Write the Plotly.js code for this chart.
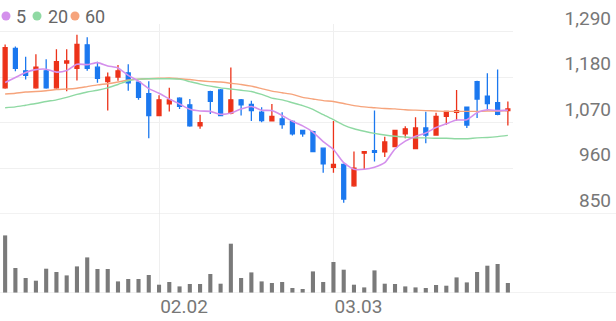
<!DOCTYPE html>
<html><head><meta charset="utf-8">
<script src="https://cdn.plot.ly/plotly-3.0.1.min.js"></script>
<style>html,body{margin:0;padding:0;background:#fff}#chart{width:616px;height:321px}</style>
</head><body><div id="chart"></div>
<script>
const dates=["01.12","01.13","01.14","01.15","01.16","01.19","01.20","01.21","01.22","01.23","01.26","01.27","01.28","01.29","01.30","02.02","02.03","02.04","02.05","02.06","02.09","02.10","02.11","02.12","02.13","02.19","02.20","02.23","02.24","02.25","02.26","02.27","03.03","03.04","03.05","03.06","03.09","03.10","03.11","03.12","03.13","03.16","03.17","03.18","03.19","03.20","03.23","03.24","03.25","03.26"];
const openP=[1155,1250,1196,1155,1196,1155,1215,1202,1259,1205,1170,1181,1191,1169,1141,1088,1116,1130,1114,1063,1146,1150,1094,1126,1115,1096,1075,1080,1074,1052,1049,1009,963,970,918,997,1003,1000,1013,1044,1008,1058,1041,1086,1096,1108,1170,1135,1119,1100];
const highP=[1260,1255,1230,1236,1224,1248,1248,1283,1277,1218,1192,1210,1212,1171,1171,1137,1155,1132,1128,1090,1148,1152,1204,1128,1124,1108,1116,1096,1076,1053,1051,1011,1075,972,1001,1002,1100,1037,1053,1062,1084,1097,1095,1099,1150,1110,1172,1190,1199,1122];
const lowP=[1153,1195,1175,1153,1153,1153,1147,1173,1196,1167,1100,1172,1148,1126,1033,1086,1098,1104,1061,1056,1092,1086,1091,1088,1075,1072,1074,1056,1040,1037,999,950,950,877,916,957,977,988,1012,1033,1007,1021,1040,1066,1076,1058,1082,1100,1089,1064];
const closeP=[1252,1202,1185,1205,1155,1218,1220,1260,1202,1178,1181,1196,1167,1132,1088,1126,1126,1110,1063,1071,1122,1088,1126,1114,1100,1076,1086,1066,1044,1044,1001,971,970,886,961,1001,999,1024,1052,1056,1058,1041,1086,1098,1100,1065,1128,1117,1091,1104];
const ma5=[1168,1180,1192,1199,1200,1193,1197,1212,1211,1216,1208,1203,1185,1171,1153,1142,1128,1116,1103,1099,1098,1091,1094,1104,1110,1101,1100,1088,1074,1063,1048,1025,1006,974,958,958,963,974,1007,1026,1038,1046,1059,1068,1077,1078,1095,1102,1100,1101];
const ma20=[1107,1109,1113,1117,1122,1126,1132,1139,1145,1149,1155,1163,1172,1176,1177,1177,1177,1176,1170,1164,1159,1155,1152,1149,1146,1139,1130,1126,1119,1112,1103,1090,1078,1065,1056,1050,1045,1041,1038,1036,1034,1034,1033,1033,1032,1032,1034,1035,1037,1040];
const ma60=[1140,1142,1145,1146,1148,1151,1152,1154,1158,1162,1165,1169,1174,1176,1177,1178,1179,1177,1175,1172,1170,1169,1166,1163,1159,1153,1147,1143,1139,1132,1128,1124,1122,1117,1112,1109,1107,1105,1104,1102,1101,1100,1099,1098,1098,1098,1098,1099,1099,1100];
const volume=[576,250,150,123,243,210,176,266,356,240,240,116,140,140,180,83,110,66,90,90,190,93,493,150,206,116,100,110,50,40,216,110,310,233,83,56,226,93,90,66,56,50,80,73,156,106,210,273,290,100];
const priceTicks=[850,960,1070,1180,1290];
const priceTickText=["850","960","1,070","1,180","1,290"];
const dateTicks=["02.02","03.03"];
const maNames=["5","20","60"];
const maColors=["#d490ec","#8fd9a3","#f6a47c"];

const W=616, PB=293; // plot bottom in px (margin b=28, t=0)
const PX=p=>p/W, PY=p=>(PB-p)/PB;
const red="#ec3219", blue="#1b78ef";
const font="Roboto, sans-serif";

const traces=[
 {type:"scatter",mode:"lines",x:dates,y:ma60,line:{color:maColors[2],width:1.4,shape:"spline",smoothing:0.6},xaxis:"x",yaxis:"y",hoverinfo:"skip"},
 {type:"scatter",mode:"lines",x:dates,y:ma20,line:{color:maColors[1],width:1.4,shape:"spline",smoothing:0.6},xaxis:"x",yaxis:"y",hoverinfo:"skip"},
 {type:"scatter",mode:"lines",x:dates,y:ma5,line:{color:maColors[0],width:1.6,shape:"spline",smoothing:0.6},xaxis:"x",yaxis:"y",hoverinfo:"skip"},
 {type:"candlestick",x:dates,open:openP,high:highP,low:lowP,close:closeP,xaxis:"x",yaxis:"y",whiskerwidth:0,
  increasing:{line:{color:red,width:1.3},fillcolor:red},decreasing:{line:{color:blue,width:1.3},fillcolor:blue},hoverinfo:"skip"},
 {type:"bar",x:dates,y:volume,xaxis:"x",yaxis:"y2",marker:{color:"#7a7a7a"},width:0.4,hoverinfo:"skip"}
];

const shapes=[
 {type:"line",xref:"paper",yref:"y",x0:0,x1:1,y0:850,y1:850,line:{color:"#e4e4e4",width:1}},
 {type:"line",xref:"paper",yref:"y2",x0:0,x1:1,y0:0,y1:0,line:{color:"#e4e4e4",width:1}}
];
const dotX=[6,37,75], labX=[14,46,83];
const annotations=[];
for(let k=0;k<3;k++){
 shapes.push({type:"circle",xref:"paper",yref:"paper",xsizemode:"pixel",ysizemode:"pixel",xanchor:PX(dotX[k]),yanchor:PY(16),x0:-4.5,x1:4.5,y0:-4.5,y1:4.5,fillcolor:maColors[k],line:{width:0}});
 annotations.push({xref:"paper",yref:"paper",x:PX(labX[k]),y:PY(16),xanchor:"left",yanchor:"middle",text:maNames[k],showarrow:false,font:{family:font,size:18,color:"#666"}});
}

const layout={
 width:616,height:321,margin:{l:0,r:0,t:0,b:28},paper_bgcolor:"#fff",plot_bgcolor:"#fff",showlegend:false,
 font:{family:font,color:"#777"},
 xaxis:{type:"category",domain:[0,513/W],range:[-0.5,49.5],anchor:"y2",rangeslider:{visible:false},
  tickmode:"array",tickvals:dateTicks,ticktext:dateTicks,ticks:"",showgrid:true,gridcolor:"#efefef",gridwidth:1,
  showline:false,zeroline:false,ticklabelshift:25,tickfont:{family:font,size:19,color:"#777"},fixedrange:true},
 yaxis:{domain:[PY(214),PY(23.7)],range:[850,1310],anchor:"free",position:614/W,side:"right",
  tickmode:"array",tickvals:priceTicks,ticktext:priceTickText,ticks:"",ticklabelposition:"inside",ticklabeloverflow:"allow",
  ticklabelshift:-14,showgrid:true,gridcolor:"#f0f0f0",zeroline:false,showline:false,tickfont:{family:font,size:19,color:"#777"}},
 yaxis2:{domain:[0,PY(214)],range:[0,790],anchor:"x",showgrid:false,zeroline:false,showticklabels:false,ticks:""},
 boxgap:0.45,bargap:0.6,
 shapes:shapes,annotations:annotations
};
Plotly.newPlot("chart",traces,layout,{staticPlot:true,displayModeBar:false});
</script></body></html>
